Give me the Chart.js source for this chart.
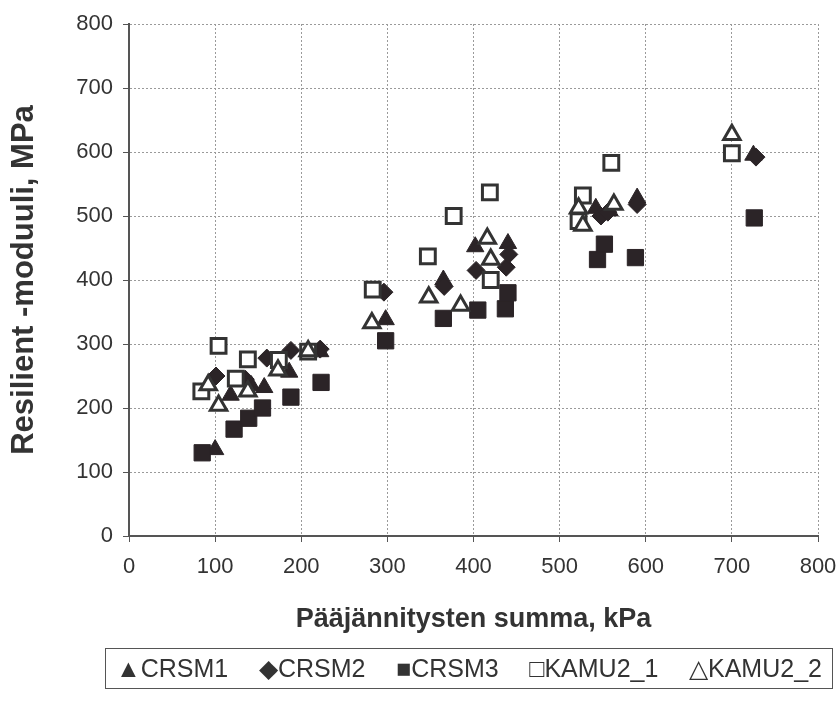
<!DOCTYPE html>
<html>
<head>
<meta charset="utf-8">
<script src="https://cdn.jsdelivr.net/npm/chart.js@4.4.1/dist/chart.umd.min.js"></script>
<style>
  body { margin: 0; background: #fff; }
  #wrap { position: relative; width: 837px; height: 708px; }
  #legend {
    position: absolute; left: 105px; top: 648px; width: 728px; height: 41px;
    border: 1px solid #555; box-sizing: border-box;
    font: 25px "Liberation Sans", Arial, sans-serif; color: #333;
    display: flex; align-items: center; justify-content: space-between;
    padding: 0 10px; white-space: nowrap;
  }
</style>
</head>
<body>
<div id="wrap">
  <canvas id="myChart" width="837" height="708"></canvas>
  <div id="legend"></div>
</div>
<script>
// sum of principal stresses (kPa), resilient modulus (MPa)
const crsm1 = [[100,135],[118,220],[142,235],[157,232],[186,256],[222,288],[298,338],[365,400],[402,452],[440,457],[542,512],[558,508],[590,528],[725,595]];
const crsm2 = [[101,250],[135,245],[160,278],[188,290],[222,292],[296,381],[366,390],[403,415],[438,420],[441,440],[548,500],[556,506],[590,518],[728,592]];
const crsm3 = [[85,130],[122,167],[139,184],[155,200],[188,217],[223,240],[298,305],[365,340],[405,353],[437,355],[440,380],[544,432],[552,456],[588,435],[726,497]];
const kamu21 = [[84,226],[104,297],[124,246],[138,276],[174,275],[208,288],[283,385],[347,437],[377,500],[419,537],[420,400],[522,492],[527,532],[560,583],[700,598]];
const kamu22 = [[92,236],[104,204],[138,226],[173,259],[208,289],[282,333],[348,373],[385,360],[416,465],[420,432],[522,512],[527,485],[563,518],[700,627]];

const seriesLabels = ["CRSM1", "CRSM2", "CRSM3", "KAMU2_1", "KAMU2_2"];
const legendGlyphs = ["\u25B2", "\u25C6", "\u25A0", "\u25A1", "\u25B3"];
const xTicks = [0, 100, 200, 300, 400, 500, 600, 700, 800];
const yTicks = [0, 100, 200, 300, 400, 500, 600, 700, 800];

const dark = "#2b2427";
const textColor = "#333";
const fontFamily = "'Liberation Sans', Arial, sans-serif";

function toPts(arr) {
  return arr.map(p => ({ x: p[0], y: p[1] }));
}

const styles = [
  { pointStyle: "triangle", pointRadius: 10, backgroundColor: dark, borderColor: dark, borderWidth: 1 },
  { pointStyle: "rectRot", pointRadius: 9, backgroundColor: dark, borderColor: dark, borderWidth: 1 },
  { pointStyle: "rect", pointRadius: 11.5, backgroundColor: dark, borderColor: dark, borderWidth: 1 },
  { pointStyle: "rect", pointRadius: 10.5, backgroundColor: "#fff", borderColor: "#333", borderWidth: 3 },
  { pointStyle: "triangle", pointRadius: 9.5, backgroundColor: "#fff", borderColor: "#333", borderWidth: 3 },
];

const allData = [crsm1, crsm2, crsm3, kamu21, kamu22];

const datasets = allData.map((d, i) => Object.assign({
  label: seriesLabels[i],
  data: toPts(d),
  showLine: false,
  pointHoverRadius: styles[i].pointRadius,
  order: 4 - i,
}, styles[i]));

const ctx = document.getElementById("myChart").getContext("2d");
new Chart(ctx, {
  type: "scatter",
  data: { datasets: datasets },
  options: {
    responsive: false,
    animation: false,
    layout: { padding: { left: 6, top: 24, right: 19, bottom: 72 } },
    plugins: {
      legend: { display: false },
      tooltip: { enabled: false },
    },
    scales: {
      x: {
        type: "linear",
        min: 0,
        max: 800,
        afterBuildTicks: (scale) => { scale.ticks = xTicks.map(v => ({ value: v })); },
        afterFit: (scale) => {
          scale.height = 100;
          scale.paddingLeft = 0;
          scale.paddingRight = 0;
        },
        ticks: {
          color: textColor,
          padding: 12,
          font: { family: fontFamily, size: 22 },
        },
        grid: { color: "#9a9a9a", tickColor: "#555", tickLength: 6, tickWidth: 1 },
        border: { color: "#555", width: 2, dash: [2, 2] },
        title: {
          display: true,
          text: "Pääjännitysten summa, kPa",
          color: textColor,
          padding: 0,
          font: { family: fontFamily, size: 27, weight: "bold" },
        },
      },
      y: {
        type: "linear",
        min: 0,
        max: 800,
        afterBuildTicks: (scale) => { scale.ticks = yTicks.map(v => ({ value: v })); },
        afterFit: (scale) => {
          scale.width = 123;
          scale.paddingTop = 0;
          scale.paddingBottom = 0;
        },
        ticks: {
          color: textColor,
          padding: 10,
          font: { family: fontFamily, size: 22 },
        },
        grid: { color: "#9a9a9a", tickColor: "#555", tickLength: 6, tickWidth: 1 },
        border: { color: "#555", width: 2, dash: [2, 2] },
        title: {
          display: true,
          text: "Resilient -moduuli, MPa",
          color: textColor,
          padding: 0,
          font: { family: fontFamily, size: 31, weight: "bold" },
        },
      },
    },
  },
});

// legend box under the plot
const legend = document.getElementById("legend");
seriesLabels.forEach((name, i) => {
  const s = document.createElement("span");
  s.textContent = legendGlyphs[i] + name;
  legend.appendChild(s);
});
</script>
</body>
</html>
